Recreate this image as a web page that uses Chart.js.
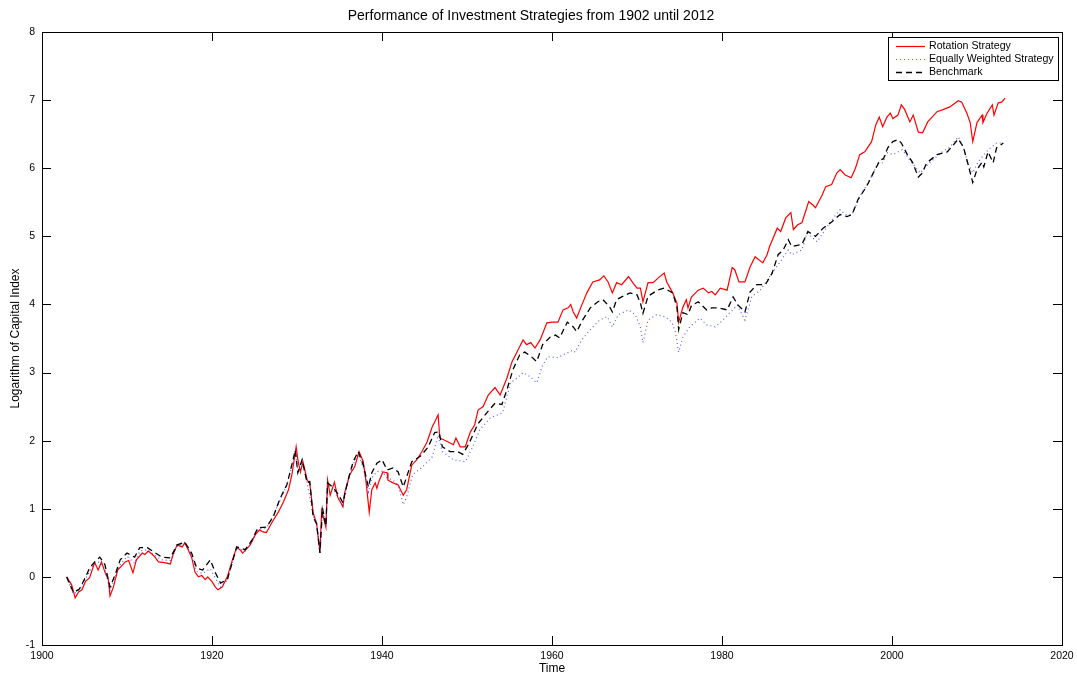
<!DOCTYPE html>
<html>
<head>
<meta charset="utf-8">
<script src="https://cdn.jsdelivr.net/npm/chart.js@4.4.1/dist/chart.umd.min.js"></script>
<style>
  html, body { margin: 0; padding: 0; background: #fff; }
  #wrap { width: 1077px; height: 677px; }
</style>
</head>
<body>
<div id="wrap"><canvas id="chart" width="1077" height="677"></canvas></div>
<script>
const xTicks = [1900, 1920, 1940, 1960, 1980, 2000, 2020];
const yTicks = [-1, 0, 1, 2, 3, 4, 5, 6, 7, 8];

const rotationYears = [
  1902.9, 1903.5, 1903.9, 1904.3, 1904.7, 1905.1, 1905.6, 1906.2, 1906.6, 1907.0,
  1907.4, 1907.8, 1908.0, 1908.4, 1908.9, 1909.8, 1910.2, 1910.7, 1911.1, 1911.8,
  1912.1, 1912.5, 1912.9, 1913.3, 1913.7, 1914.4, 1915.1, 1915.4, 1915.9, 1916.5,
  1916.8, 1917.2, 1917.6, 1918.0, 1918.4, 1918.8, 1919.2, 1919.5, 1920.0, 1920.4,
  1920.7, 1921.2, 1921.8, 1922.4, 1922.9, 1923.3, 1923.6, 1924.0, 1924.5, 1925.1,
  1925.6, 1926.0, 1926.4, 1927.1, 1927.8, 1928.4, 1929.0, 1929.4, 1929.9, 1930.1,
  1930.4, 1930.7, 1931.2, 1931.5, 1931.9, 1932.3, 1932.7, 1932.9, 1933.4, 1933.6,
  1933.9, 1934.4, 1934.8, 1935.4, 1935.6, 1936.2, 1936.8, 1937.3, 1937.8, 1938.1,
  1938.5, 1938.8, 1939.2, 1939.4, 1939.6, 1940.1, 1940.6, 1940.7, 1941.3, 1941.9,
  1942.5, 1942.9, 1943.5, 1944.1, 1944.7, 1945.3, 1945.9, 1946.3, 1946.6, 1946.8,
  1947.8, 1948.4, 1948.7, 1949.2, 1949.8, 1950.4, 1950.9, 1951.3, 1951.9, 1952.5,
  1953.3, 1953.9, 1954.7, 1955.3, 1956.0, 1956.6, 1957.0, 1957.5, 1958.0, 1958.6,
  1959.4, 1960.0, 1960.7, 1961.3, 1961.9, 1962.2, 1962.5, 1962.9, 1963.5, 1964.1,
  1964.8, 1965.6, 1966.1, 1966.6, 1967.1, 1967.6, 1968.2, 1969.0, 1969.5, 1970.0,
  1970.4, 1970.7, 1971.3, 1971.9, 1972.5, 1973.2, 1973.5, 1974.2, 1974.7, 1974.9,
  1975.4, 1975.8, 1976.0, 1976.4, 1977.2, 1977.8, 1978.4, 1978.8, 1979.2, 1979.8,
  1980.6, 1981.2, 1981.5, 1982.0, 1982.7, 1983.3, 1983.9, 1984.8, 1985.3, 1985.6,
  1986.5, 1986.9, 1987.5, 1988.1, 1988.4, 1988.9, 1989.4, 1990.0, 1990.2, 1990.7,
  1991.0, 1991.8, 1992.2, 1992.9, 1993.5, 1993.9, 1994.5, 1995.2, 1995.7, 1996.2,
  1996.8, 1997.6, 1998.1, 1998.5, 1998.9, 1999.4, 1999.8, 2000.1, 2000.7, 2001.1,
  2001.5, 2002.1, 2002.5, 2003.1, 2003.6, 2004.2, 2005.3, 2006.0, 2006.8, 2007.8,
  2008.2, 2008.8, 2009.2, 2009.5, 2010.0, 2010.6, 2010.7, 2011.2, 2011.8, 2012.0,
  2012.5, 2012.9, 2013.3
];
const rotationValues = [
  0.00, -0.12, -0.31, -0.22, -0.19, -0.07, -0.01, 0.21, 0.10, 0.22,
  0.07, -0.04, -0.28, -0.15, 0.10, 0.22, 0.24, 0.06, 0.25, 0.35,
  0.33, 0.38, 0.34, 0.29, 0.22, 0.21, 0.19, 0.32, 0.47, 0.44,
  0.50, 0.40, 0.29, 0.07, 0.00, 0.02, -0.04, 0.00, -0.07, -0.15,
  -0.19, -0.15, 0.00, 0.25, 0.43, 0.40, 0.35, 0.40, 0.47, 0.62,
  0.69, 0.66, 0.65, 0.81, 0.95, 1.10, 1.28, 1.50, 1.91, 1.72,
  1.54, 1.69, 1.42, 1.38, 0.94, 0.79, 0.37, 0.98, 0.73, 1.42,
  1.20, 1.39, 1.17, 1.03, 1.23, 1.50, 1.62, 1.84, 1.69, 1.42,
  0.95, 1.28, 1.38, 1.30, 1.39, 1.54, 1.53, 1.42, 1.38, 1.35,
  1.20, 1.28, 1.64, 1.72, 1.84, 1.98, 2.20, 2.30, 2.38, 2.04,
  1.98, 1.94, 2.04, 1.91, 1.91, 2.13, 2.23, 2.45, 2.50, 2.67,
  2.78, 2.67, 2.92, 3.16, 3.33, 3.48, 3.41, 3.44, 3.36, 3.48,
  3.73, 3.74, 3.74, 3.92, 3.95, 4.00, 3.89, 3.80, 3.99, 4.17,
  4.33, 4.36, 4.42, 4.33, 4.17, 4.32, 4.29, 4.41, 4.32, 4.24,
  4.24, 4.04, 4.32, 4.32, 4.39, 4.46, 4.33, 4.17, 4.02, 3.74,
  3.96, 4.07, 3.95, 4.11, 4.21, 4.24, 4.17, 4.19, 4.14, 4.24,
  4.21, 4.54, 4.51, 4.33, 4.33, 4.55, 4.70, 4.61, 4.73, 4.85,
  5.12, 5.07, 5.27, 5.35, 5.10, 5.17, 5.20, 5.43, 5.51, 5.46,
  5.42, 5.61, 5.73, 5.76, 5.93, 5.98, 5.90, 5.86, 6.00, 6.20,
  6.24, 6.39, 6.64, 6.75, 6.61, 6.75, 6.81, 6.73, 6.78, 6.93,
  6.86, 6.68, 6.78, 6.53, 6.52, 6.68, 6.83, 6.86, 6.90, 6.99,
  6.97, 6.81, 6.67, 6.39, 6.67, 6.78, 6.67, 6.81, 6.93, 6.78,
  6.96, 6.97, 7.03
];

const equalYears = [
  1902.9, 1903.7, 1904.4, 1905.1, 1905.6, 1906.2, 1906.8, 1907.4, 1908.0, 1908.6,
  1909.2, 1910.0, 1910.9, 1911.5, 1912.4, 1913.1, 1914.1, 1915.1, 1915.9, 1916.8,
  1917.6, 1918.2, 1918.9, 1919.8, 1920.4, 1921.0, 1921.8, 1922.4, 1922.9, 1923.9,
  1924.7, 1925.4, 1926.4, 1927.2, 1928.0, 1928.8, 1929.4, 1929.8, 1930.1, 1930.6,
  1931.2, 1931.9, 1932.3, 1932.7, 1933.0, 1933.4, 1933.6, 1934.2, 1935.4, 1936.0,
  1936.6, 1937.2, 1937.8, 1938.4, 1938.8, 1939.4, 1940.0, 1940.6, 1941.3, 1941.9,
  1942.5, 1942.9, 1943.6, 1944.8, 1945.9, 1946.6, 1947.1, 1948.4, 1949.8, 1950.6,
  1951.5, 1952.7, 1953.6, 1954.2, 1955.1, 1955.9, 1956.6, 1957.4, 1958.2, 1958.9,
  1959.5, 1960.7, 1961.3, 1962.5, 1962.7, 1963.5, 1964.5, 1965.6, 1966.5, 1967.1,
  1967.8, 1969.0, 1969.8, 1970.4, 1970.7, 1971.3, 1972.3, 1973.3, 1974.1, 1974.5,
  1974.9, 1975.4, 1976.2, 1977.4, 1978.2, 1979.2, 1980.1, 1980.7, 1981.8, 1982.7,
  1983.5, 1984.5, 1985.6, 1986.8, 1987.8, 1988.2, 1989.4, 1990.0, 1991.2, 1992.9,
  1993.9, 1994.5, 1995.3, 1996.2, 1997.2, 1998.4, 1998.9, 1999.4, 2000.1, 2001.2,
  2002.1, 2003.3, 2004.5, 2005.9, 2006.8, 2007.8, 2008.4, 2008.9, 2009.5, 2010.1,
  2011.1, 2011.7, 2012.3, 2012.9, 2013.1
];
const equalValues = [
  0.00, -0.25, -0.20, -0.04, 0.08, 0.20, 0.22, 0.12, -0.20, 0.00,
  0.18, 0.30, 0.20, 0.38, 0.40, 0.33, 0.25, 0.24, 0.45, 0.50,
  0.32, 0.08, 0.05, 0.12, -0.02, -0.15, -0.05, 0.22, 0.42, 0.38,
  0.52, 0.70, 0.72, 0.90, 1.12, 1.35, 1.62, 1.84, 1.55, 1.70,
  1.38, 0.90, 0.78, 0.33, 1.00, 0.75, 1.35, 1.30, 1.05, 1.40,
  1.65, 1.80, 1.60, 1.25, 1.45, 1.55, 1.55, 1.45, 1.42, 1.35,
  1.06, 1.17, 1.50, 1.62, 1.76, 2.08, 1.84, 1.72, 1.69, 1.89,
  2.16, 2.33, 2.38, 2.41, 2.85, 2.92, 3.00, 2.94, 2.85, 3.11,
  3.23, 3.22, 3.26, 3.33, 3.30, 3.48, 3.63, 3.77, 3.82, 3.67,
  3.85, 3.92, 3.85, 3.67, 3.44, 3.77, 3.85, 3.82, 3.74, 3.60,
  3.30, 3.52, 3.67, 3.80, 3.70, 3.67, 3.77, 3.85, 3.99, 3.77,
  4.11, 4.21, 4.41, 4.62, 4.80, 4.73, 4.80, 5.05, 4.92, 5.24,
  5.39, 5.32, 5.32, 5.58, 5.79, 6.08, 6.08, 6.23, 6.20, 6.27,
  6.12, 5.93, 6.09, 6.24, 6.31, 6.46, 6.31, 6.08, 5.93, 6.09,
  6.24, 6.31, 6.37, 6.37, 6.36
];

const benchmarkYears = [
  1902.9, 1903.7, 1904.4, 1905.1, 1905.6, 1906.2, 1906.8, 1907.4, 1908.0, 1908.6,
  1909.2, 1910.0, 1910.9, 1911.5, 1912.4, 1913.1, 1914.1, 1915.1, 1915.9, 1916.8,
  1917.6, 1918.2, 1918.9, 1919.8, 1920.4, 1921.0, 1921.8, 1922.4, 1922.9, 1923.9,
  1924.7, 1925.4, 1926.4, 1927.2, 1928.0, 1928.8, 1929.4, 1929.8, 1930.1, 1930.6,
  1931.2, 1931.5, 1931.9, 1932.3, 1932.7, 1933.0, 1933.4, 1933.6, 1934.2, 1934.8,
  1935.4, 1936.0, 1936.6, 1937.2, 1937.8, 1938.4, 1938.8, 1939.4, 1940.0, 1940.6,
  1941.3, 1941.9, 1942.5, 1943.5, 1944.5, 1945.4, 1946.2, 1946.7, 1947.1, 1948.0,
  1948.9, 1949.5, 1950.2, 1951.3, 1952.4, 1953.3, 1954.1, 1954.7, 1955.4, 1956.2,
  1956.8, 1957.6, 1958.2, 1958.9, 1959.8, 1960.4, 1960.9, 1961.8, 1962.5, 1962.9,
  1963.6, 1964.5, 1965.4, 1966.0, 1966.8, 1967.1, 1967.6, 1968.2, 1969.2, 1970.0,
  1970.4, 1970.7, 1971.3, 1972.4, 1973.2, 1974.2, 1974.7, 1974.9, 1975.4, 1976.0,
  1976.4, 1977.2, 1978.2, 1978.8, 1979.5, 1980.6, 1981.3, 1981.9, 1982.7, 1983.3,
  1984.1, 1985.1, 1985.9, 1986.6, 1987.2, 1987.8, 1988.2, 1989.4, 1990.1, 1991.0,
  1991.9, 1992.9, 1993.9, 1994.7, 1995.3, 1996.0, 1997.0, 1997.8, 1998.6, 1999.0,
  1999.5, 2000.1, 2000.7, 2001.1, 2001.8, 2002.4, 2003.1, 2003.5, 2004.1, 2005.3,
  2006.5, 2007.2, 2007.8, 2008.4, 2008.9, 2009.5, 2010.0, 2010.6, 2010.8, 2011.3,
  2011.9, 2012.3, 2013.1
];
const benchmarkValues = [
  0.00, -0.23, -0.18, -0.01, 0.13, 0.22, 0.29, 0.18, -0.15, 0.03,
  0.25, 0.35, 0.29, 0.43, 0.43, 0.37, 0.29, 0.28, 0.47, 0.51,
  0.35, 0.13, 0.10, 0.25, 0.06, -0.09, -0.04, 0.22, 0.44, 0.40,
  0.54, 0.72, 0.73, 0.88, 1.15, 1.35, 1.65, 1.86, 1.53, 1.72,
  1.38, 1.40, 0.88, 0.78, 0.35, 1.01, 0.75, 1.38, 1.32, 1.22,
  1.09, 1.42, 1.69, 1.84, 1.64, 1.32, 1.53, 1.67, 1.72, 1.57,
  1.60, 1.54, 1.32, 1.69, 1.77, 1.90, 2.12, 2.13, 1.91, 1.84,
  1.84, 1.80, 1.95, 2.25, 2.42, 2.55, 2.53, 2.75, 3.04, 3.26,
  3.30, 3.23, 3.16, 3.41, 3.52, 3.55, 3.51, 3.74, 3.67, 3.60,
  3.77, 3.95, 4.04, 4.07, 3.96, 3.89, 4.07, 4.11, 4.17, 4.14,
  4.02, 3.87, 4.12, 4.21, 4.24, 4.17, 3.96, 3.63, 3.88, 3.85,
  3.98, 4.04, 3.92, 3.95, 3.95, 3.92, 4.11, 3.99, 3.89, 4.18,
  4.29, 4.29, 4.46, 4.73, 4.80, 4.95, 4.85, 4.88, 5.07, 5.00,
  5.12, 5.21, 5.32, 5.29, 5.32, 5.54, 5.73, 5.93, 6.12, 6.14,
  6.30, 6.39, 6.42, 6.37, 6.20, 6.09, 5.87, 5.92, 6.08, 6.20,
  6.24, 6.34, 6.43, 6.31, 6.08, 5.79, 5.98, 6.09, 6.02, 6.24,
  6.08, 6.30, 6.37
];

const toPoints = (xs, ys) => xs.map((x, i) => ({ x: x, y: ys[i] }));

// MATLAB-like box, inward ticks and legend
const matlabAxes = {
  id: 'matlabAxes',
  afterDatasetsDraw(chart) {
    const { ctx, chartArea: a, scales } = chart;
    const sx = scales.x, sy = scales.y;
    const tick = 9;
    ctx.save();
    ctx.strokeStyle = '#000';
    ctx.lineWidth = 1;
    ctx.setLineDash([]);
    ctx.beginPath();
    xTicks.forEach(v => {
      const px = Math.round(sx.getPixelForValue(v)) + 0.5;
      ctx.moveTo(px, a.bottom); ctx.lineTo(px, a.bottom - tick);
      ctx.moveTo(px, a.top); ctx.lineTo(px, a.top + tick);
    });
    yTicks.forEach(v => {
      const py = Math.round(sy.getPixelForValue(v)) + 0.5;
      ctx.moveTo(a.left, py); ctx.lineTo(a.left + tick, py);
      ctx.moveTo(a.right, py); ctx.lineTo(a.right - tick, py);
    });
    ctx.stroke();
    ctx.strokeRect(Math.round(a.left) + 0.5, Math.round(a.top) + 0.5,
      Math.round(a.right - a.left), Math.round(a.bottom - a.top));

    // legend
    const bw = 170, bh = 43;
    const bx = Math.round(a.right) - 4 - bw, by = Math.round(a.top) + 5;
    ctx.fillStyle = '#fff';
    ctx.fillRect(bx, by, bw, bh);
    ctx.strokeRect(bx + 0.5, by + 0.5, bw, bh);
    ctx.font = '10.6px "Liberation Sans", Arial, sans-serif';
    ctx.textBaseline = 'middle';
    chart.data.datasets.forEach((ds, i) => {
      const ry = by + 9.5 + i * 13;
      ctx.beginPath();
      ctx.strokeStyle = ds.borderColor;
      ctx.lineWidth = ds.borderWidth;
      ctx.setLineDash(ds.borderDash || []);
      ctx.moveTo(bx + 8, ry); ctx.lineTo(bx + 37, ry);
      ctx.stroke();
      ctx.fillStyle = '#000';
      ctx.fillText(ds.label, bx + 41, ry);
    });
    ctx.restore();
  }
};

const font = '"Liberation Sans", Arial, sans-serif';

new Chart(document.getElementById('chart'), {
  type: 'line',
  data: {
    datasets: [
      {
        label: 'Rotation Strategy',
        data: toPoints(rotationYears, rotationValues),
        borderColor: '#ff0000',
        borderWidth: 1.2,
        order: 3
      },
      {
        label: 'Equally Weighted Strategy',
        data: toPoints(equalYears, equalValues),
        borderColor: 'rgba(40,40,255,0.75)',
        borderWidth: 1.2,
        borderDash: [1, 3],
        order: 2
      },
      {
        label: 'Benchmark',
        data: toPoints(benchmarkYears, benchmarkValues),
        borderColor: '#000000',
        borderWidth: 1.3,
        borderDash: [6, 4],
        order: 1
      }
    ]
  },
  options: {
    responsive: false,
    animation: false,
    devicePixelRatio: 1,
    layout: { padding: { left: 0, right: 15, top: 0, bottom: 0 } },
    elements: {
      point: { radius: 0 },
      line: { tension: 0, fill: false }
    },
    plugins: {
      legend: { display: false },
      tooltip: { enabled: false },
      title: {
        display: true,
        text: 'Performance of Investment Strategies from 1902 until 2012',
        color: '#000',
        font: { family: font, size: 14, weight: 'normal' },
        padding: { top: 8, bottom: 7.2 }
      }
    },
    scales: {
      x: {
        type: 'linear',
        min: 1900,
        max: 2020,
        afterBuildTicks: s => { s.ticks = xTicks.map(v => ({ value: v })); },
        afterFit: s => { s.height = 32; s.paddingLeft = 0; s.paddingRight = 0; },
        grid: { display: false, drawTicks: false },
        border: { display: false },
        ticks: {
          color: '#000',
          padding: 5,
          maxRotation: 0,
          font: { family: font, size: 10.5 },
          callback: v => String(v)
        },
        title: {
          display: true,
          text: 'Time',
          color: '#000',
          font: { family: font, size: 12 },
          padding: { top: 0, bottom: 1.5 }
        }
      },
      y: {
        type: 'linear',
        min: -1,
        max: 8,
        afterBuildTicks: s => { s.ticks = yTicks.map(v => ({ value: v })); },
        afterFit: s => { s.width = 42; s.paddingTop = 0; s.paddingBottom = 0; },
        grid: { display: false, drawTicks: false },
        border: { display: false },
        ticks: {
          color: '#000',
          padding: 7,
          font: { family: font, size: 10.5 },
          callback: v => String(v)
        },
        title: {
          display: true,
          text: 'Logarithm of Capital Index',
          color: '#000',
          font: { family: font, size: 12 },
          padding: { top: 8, bottom: 0 }
        }
      }
    }
  },
  plugins: [matlabAxes]
});
</script>
</body>
</html>
